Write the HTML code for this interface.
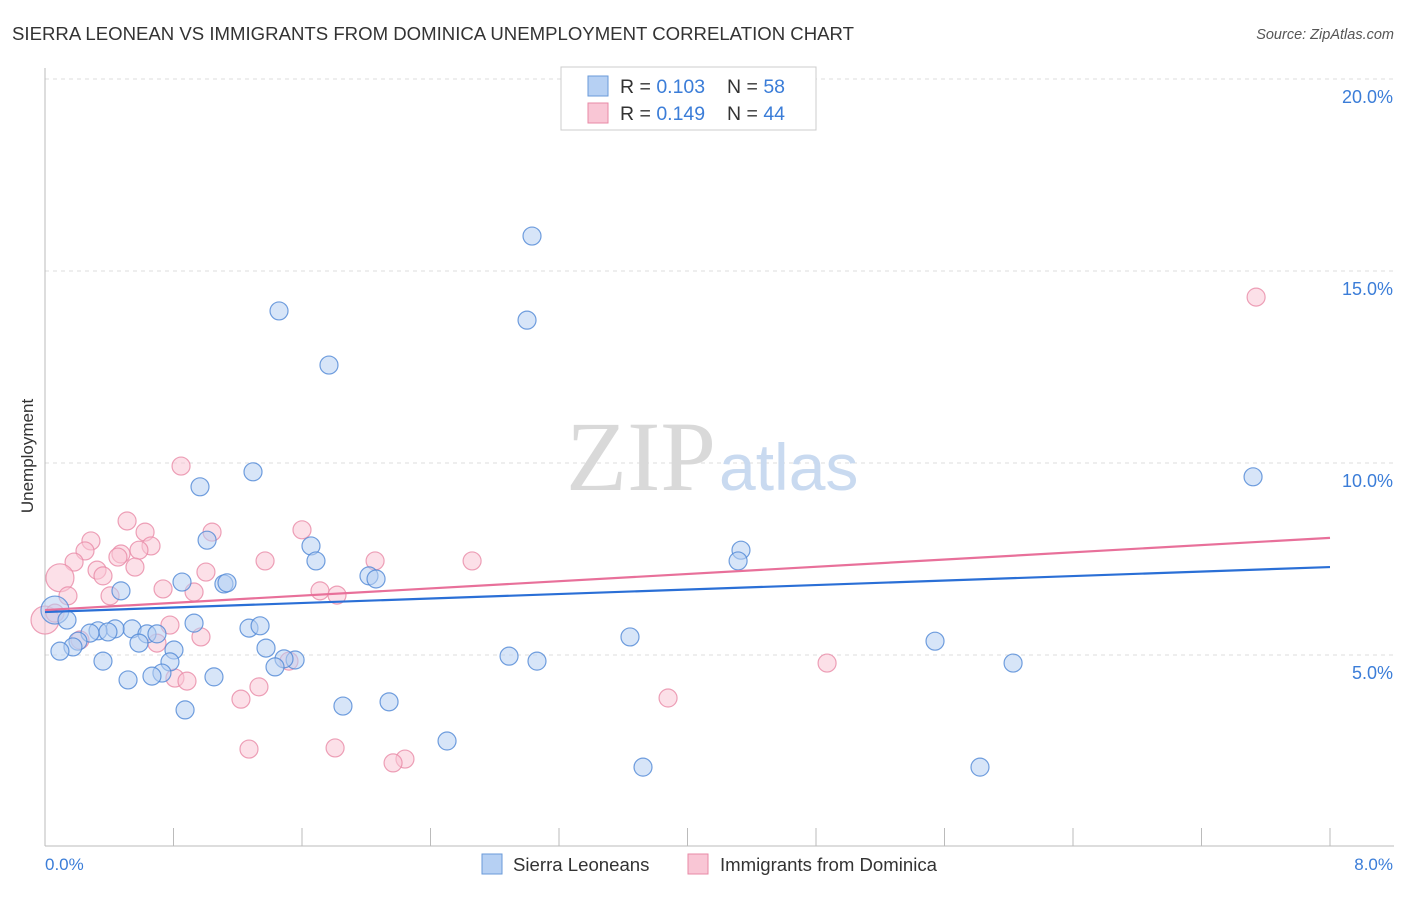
<!DOCTYPE html>
<html><head><meta charset="utf-8"><style>
body{margin:0;background:#fff;font-family:"Liberation Sans",sans-serif;}
svg text{font-family:"Liberation Sans",sans-serif;}
svg text.serif{font-family:"Liberation Serif",serif;}
</style></head><body>
<svg id="chart" width="1406" height="892">
<text x="12" y="40" font-size="18.6" fill="#333">SIERRA LEONEAN VS IMMIGRANTS FROM DOMINICA UNEMPLOYMENT CORRELATION CHART</text>
<text x="1394" y="39" font-size="14.5" fill="#555" font-style="italic" text-anchor="end">Source: ZipAtlas.com</text>
<g id="grid"></g>
<text class="serif" x="716" y="490" font-size="100" fill="#d9d9d9" text-anchor="end">ZIP</text>
<text x="719" y="490" font-size="66" fill="#c9daf0">atlas</text>
<line x1="45" y1="68" x2="45" y2="846" stroke="#bbb"/>
<line x1="45" y1="846" x2="1394" y2="846" stroke="#bbb"/>
<g id="ticks"></g>
<g id="marks"></g>
<text transform="translate(33,456) rotate(-90)" font-size="17" fill="#333" text-anchor="middle">Unemployment</text>
<text x="45" y="870" font-size="17" fill="#3b7dd8">0.0%</text>
<text x="1393" y="870" font-size="17" fill="#3b7dd8" text-anchor="end">8.0%</text>
<g>
<rect x="561" y="67" width="255" height="63" fill="#fff" stroke="#ccc"/>
<rect x="588" y="76" width="20" height="20" fill="#b6d0f3" stroke="#6a9ad8"/>
<rect x="588" y="103" width="20" height="20" fill="#f9c6d5" stroke="#e88aa6"/>
<text x="620" y="93" font-size="19.5" fill="#333">R = <tspan fill="#3b7dd8">0.103</tspan></text>
<text x="727" y="93" font-size="19.5" fill="#333">N = <tspan fill="#3b7dd8">58</tspan></text>
<text x="620" y="120" font-size="19.5" fill="#333">R = <tspan fill="#3b7dd8">0.149</tspan></text>
<text x="727" y="120" font-size="19.5" fill="#333">N = <tspan fill="#3b7dd8">44</tspan></text>
</g>
<g>
<rect x="482" y="854" width="20" height="20" fill="#b6d0f3" stroke="#6a9ad8"/>
<text x="513" y="871" font-size="18.6" fill="#333">Sierra Leoneans</text>
<rect x="688" y="854" width="20" height="20" fill="#f9c6d5" stroke="#e88aa6"/>
<text x="720" y="871" font-size="18.6" fill="#333">Immigrants from Dominica</text>
</g>
</svg>
<script>
const blueX=[3.032,3.001,1.457,1.768,7.521,1.295,0.965,1.009,1.656,1.687,4.333,4.315,2.017,2.061,0.853,1.114,1.133,0.473,0.062,0.137,0.928,1.270,1.339,0.542,0.436,0.330,0.392,0.280,0.635,0.697,0.803,0.585,0.205,0.174,0.093,1.376,3.642,5.541,0.361,0.778,1.557,1.488,1.432,2.889,3.063,6.027,0.728,0.666,0.517,1.052,0.872,1.855,2.142,2.503,3.723,5.821];
const blueY=[15.91,13.72,13.96,12.55,9.64,9.77,9.38,7.99,7.84,7.45,7.73,7.45,7.06,6.98,6.90,6.85,6.88,6.67,6.17,5.91,5.83,5.70,5.76,5.68,5.68,5.63,5.60,5.57,5.55,5.55,5.13,5.31,5.36,5.21,5.10,5.18,5.47,5.36,4.84,4.82,4.87,4.90,4.69,4.97,4.84,4.79,4.53,4.45,4.35,4.43,3.57,3.67,3.78,2.76,2.08,2.08];
const pinkX=[0.847,0.511,0.623,1.040,1.600,0.286,0.660,0.585,0.249,0.473,0.454,0.181,1.370,2.055,2.659,0.324,0.560,1.002,0.361,0.093,0.735,1.712,1.818,0.928,0.143,0.405,0.0,0.062,0.778,0.218,0.697,0.971,1.519,4.869,0.809,0.884,1.332,1.220,3.879,1.270,1.806,2.241,2.167,7.540];
const pinkY=[9.92,8.49,8.20,8.20,8.26,7.97,7.84,7.73,7.71,7.63,7.55,7.42,7.45,7.45,7.45,7.21,7.29,7.16,7.06,7.01,6.72,6.67,6.56,6.64,6.54,6.54,5.91,6.09,5.78,5.39,5.31,5.47,4.84,4.79,4.40,4.32,4.17,3.85,3.88,2.55,2.58,2.29,2.19,14.32];
const blueBig=[18];
const pinkBig=[19,26];
const blueTrend=[6.12,7.29];
const pinkTrend=[6.17,8.05];
const yTicks=[5,10,15,20];
const yTickLabels=["5.0%","10.0%","15.0%","20.0%"];
const xTicks=[0,0.8,1.6,2.4,3.2,4.0,4.8,5.6,6.4,7.2,8.0];

const NS="http://www.w3.org/2000/svg";
const sx=v=>45+v*1285/8;
const sy=v=>847-v*38.4;
function mk(tag,a,parent){const e=document.createElementNS(NS,tag);for(const k in a)e.setAttribute(k,a[k]);document.getElementById(parent).appendChild(e);return e;}
yTicks.forEach((t,i)=>{
  const l=mk('line',{x1:45,x2:1394,y1:sy(t),y2:sy(t),stroke:'#ddd','stroke-dasharray':'4,4'},'grid');
  
  
  const tx=mk('text',{x:1393,y:sy(t)+24,'font-size':18,fill:'#3b7dd8','text-anchor':'end'},'grid');
  tx.textContent=yTickLabels[i];
  
  
});
xTicks.forEach(t=>{
  const l=mk('line',{x1:sx(t),x2:sx(t),y1:828,y2:846,stroke:'#bbb'},'ticks');
  
  
});
function pts(X,Y,big,fill,stroke,name){
  X.forEach((x,i)=>{
    const r=big.includes(i)?14:9;
    const c=mk('circle',{cx:sx(x),cy:sy(Y[i]),r:r,fill:fill,'fill-opacity':0.55,stroke:stroke,'stroke-width':1.2,'stroke-opacity':0.8},'marks');
    
    
  });
}
pts(pinkX,pinkY,pinkBig,'#f9c6d5','#e88aa6','point-dominica');
pts(blueX,blueY,blueBig,'#b6d0f3','#4f87d6','point-sierra-leonean');
let tl=mk('line',{x1:sx(0),x2:sx(8),y1:sy(blueTrend[0]),y2:sy(blueTrend[1]),stroke:'#2a6fd6','stroke-width':2.2},'marks');


tl=mk('line',{x1:sx(0),x2:sx(8),y1:sy(pinkTrend[0]),y2:sy(pinkTrend[1]),stroke:'#e8709a','stroke-width':2.2},'marks');


</script>
</body></html>
